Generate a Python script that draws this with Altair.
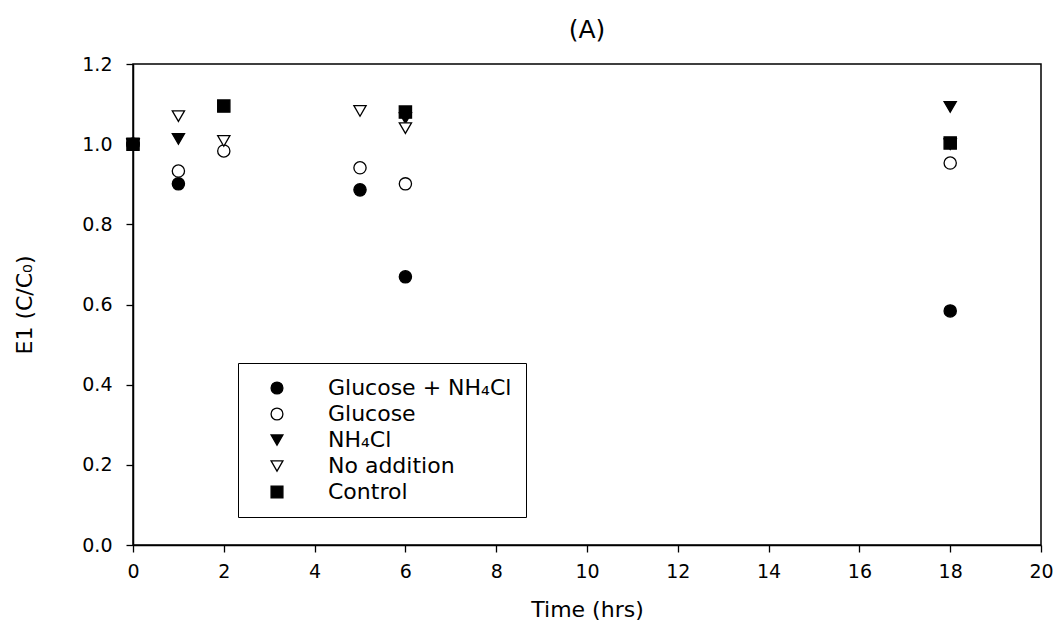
import altair as alt
import pandas as pd

# ---- data ----
series_names = ["Glucose + NH\u2084Cl", "Glucose", "NH\u2084Cl", "No addition", "Control"]

gn_time = [0, 1, 5, 6, 18]
gn_val = [1.00, 0.901, 0.886, 0.669, 0.584]

glu_time = [0, 1, 2, 5, 6, 18]
glu_val = [1.00, 0.933, 0.983, 0.941, 0.901, 0.953]

nh_time = [0, 1, 6, 18]
nh_val = [1.00, 1.013, 1.065, 1.093]

noadd_time = [0, 1, 2, 5, 6, 18]
noadd_val = [1.00, 1.070, 1.008, 1.083, 1.040, 1.00]

ctrl_time = [0, 2, 6, 18]
ctrl_val = [1.00, 1.095, 1.080, 1.003]

x_ticks = [0, 2, 4, 6, 8, 10, 12, 14, 16, 18, 20]
y_ticks = [0.0, 0.2, 0.4, 0.6, 0.8, 1.0, 1.2]

shapes = ["circle", "circle", "triangle-down", "triangle-down", "square"]
fills = ["black", "white", "black", "white", "black"]
strokes = ["black", "black", "black", "black", "black"]

rows = []
for name, ts, vs in zip(series_names,
                        [gn_time, glu_time, nh_time, noadd_time, ctrl_time],
                        [gn_val, glu_val, nh_val, noadd_val, ctrl_val]):
    for t, v in zip(ts, vs):
        rows.append({"Series": name, "Time": t, "Value": v})
df = pd.DataFrame(rows)

FONT = "DejaVu Sans"

legend = alt.Legend(
    title=None,
    orient="none",
    legendX=105,
    legendY=299,
    strokeColor="black",
    fillColor="white",
    padding=14,
    symbolOffset=14,
    labelOffset=40,
    labelFontSize=22,
    labelFont=FONT,
    labelColor="black",
    labelLimit=400,
    symbolSize=140,
    symbolStrokeWidth=1.3,
    rowPadding=4,
)

points = alt.Chart(df).mark_point(filled=True, size=150, opacity=1, strokeWidth=1.3).encode(
    x=alt.X("Time:Q",
            scale=alt.Scale(domain=[0, 20], nice=False, zero=False),
            axis=alt.Axis(values=x_ticks, title="Time (hrs)", format="d", labelFlush=False,
                          labelPadding=10, titlePadding=18)),
    y=alt.Y("Value:Q",
            scale=alt.Scale(domain=[0, 1.2], nice=False),
            axis=alt.Axis(values=y_ticks, title="E1 (C/C\u2080)", format=".1f", labelFlush=False,
                          labelPadding=14, titlePadding=45)),
    shape=alt.Shape("Series:N", scale=alt.Scale(domain=series_names, range=shapes), legend=legend),
    fill=alt.Fill("Series:N", scale=alt.Scale(domain=series_names, range=fills), legend=legend),
    stroke=alt.Stroke("Series:N", scale=alt.Scale(domain=series_names, range=strokes), legend=legend),
    order=alt.Order("ord:Q"),
).transform_calculate(
    ord="indexof(['" + "','".join(series_names) + "'], datum.Series)"
)

chart = points.properties(
    width=908,
    height=481,
    background="white",
    title=alt.TitleParams("(A)", fontSize=25, font=FONT, fontWeight="normal", color="black", offset=12),
    padding={"left": 133, "top": 64, "right": 17, "bottom": 81},
    autosize=alt.AutoSizeParams(type="none"),
).configure_view(
    stroke="black", strokeWidth=1.5
).configure_axis(
    grid=False,
    domainColor="black",
    domainWidth=1.5,
    tickColor="black",
    tickSize=7,
    tickWidth=1.3,
    labelFont=FONT,
    labelFontSize=19,
    labelColor="black",
    titleFont=FONT,
    titleFontSize=22,
    titleFontWeight="normal",
    titleColor="black",
)

chart.save("out.html", embed_options={"renderer": "svg", "actions": False})
